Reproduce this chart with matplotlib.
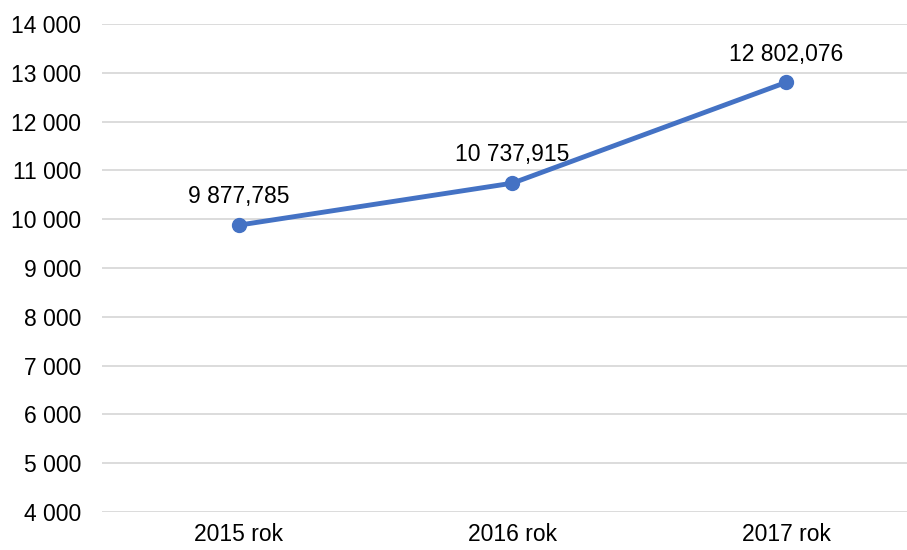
import matplotlib
matplotlib.use("Agg")
import matplotlib.pyplot as plt
from matplotlib.ticker import FuncFormatter, MultipleLocator

years = ["2015 rok", "2016 rok", "2017 rok"]
values = [9877.785, 10737.915, 12802.076]

plt.rcParams["font.family"] = ["Liberation Sans", "DejaVu Sans"]


def pl_num(v, decimals=0):
    s = f"{v:,.{decimals}f}"
    return s.replace(",", " ").replace(".", ",")


fig = plt.figure(figsize=(9.07, 5.5), dpi=100)
ax = fig.add_axes([0.1125, 0.069, 0.8875, 0.8875])

x = range(len(years))
ax.plot(x, values, color="#4472C4", lw=3.5, marker="o", ms=10, zorder=3,
        solid_capstyle="round")

for xi, v in zip(x, values):
    ax.annotate(pl_num(v, 3), (xi, v), xytext=(0, 12), textcoords="offset points",
                ha="center", va="bottom", fontsize=16.5, color="#000000")

ax.set_ylim(4000, 14000)
ax.set_xlim(-0.5, 2.442)
ax.yaxis.set_major_locator(MultipleLocator(1000))
ax.yaxis.set_major_formatter(FuncFormatter(lambda v, p: pl_num(v)))
ax.set_xticks(list(x))
ax.set_xticklabels(years, fontsize=16.5)
ax.tick_params(axis="y", labelsize=16.5, length=0, pad=15)
ax.tick_params(axis="x", length=0, pad=8)

ax.grid(axis="y", color="#D9D9D9", lw=1.3)
ax.set_axisbelow(True)
for s in ax.spines.values():
    s.set_visible(False)

fig.savefig("out.png", dpi=100)
